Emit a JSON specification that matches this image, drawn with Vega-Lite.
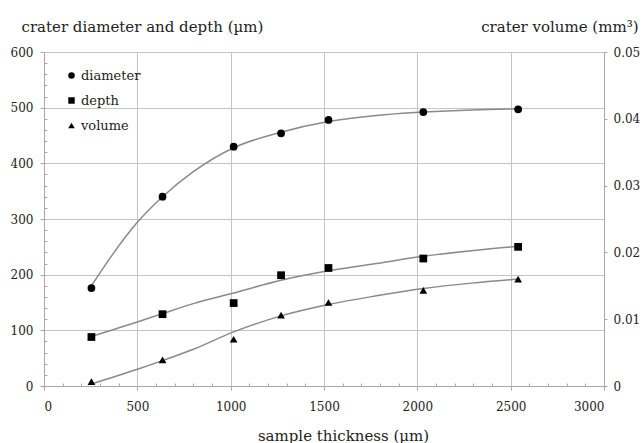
{
  "$schema": "https://vega.github.io/schema/vega-lite/v6.json",
  "width": 560,
  "height": 334,
  "autosize": {"type": "none"},
  "padding": {"left": 44, "top": 52, "right": 39, "bottom": 57},
  "background": "white",
  "config": {
    "view": {"stroke": null},
    "font": "DejaVu Serif",
    "legend": {"labelFont": "DejaVu Serif"},
    "axis": {
      "labelFont": "DejaVu Serif",
      "titleFont": "DejaVu Serif",
      "labelFontSize": 12,
      "titleFontSize": 15,
      "titleFontWeight": "normal",
      "labelColor": "#222",
      "titleColor": "#222",
      "domainColor": "#a8a8a8",
      "tickColor": "#a8a8a8",
      "gridColor": "#c4c4c4",
      "gridWidth": 1,
      "labelOverlap": false
    }
  },
  "datasets": {
    "points": [
      {"thickness": 254, "series": "diameter", "value": 176},
      {"thickness": 635, "series": "diameter", "value": 340},
      {"thickness": 1016, "series": "diameter", "value": 430},
      {"thickness": 1270, "series": "diameter", "value": 454},
      {"thickness": 1524, "series": "diameter", "value": 478},
      {"thickness": 2032, "series": "diameter", "value": 492},
      {"thickness": 2540, "series": "diameter", "value": 497},
      {"thickness": 254, "series": "depth", "value": 88},
      {"thickness": 635, "series": "depth", "value": 129},
      {"thickness": 1016, "series": "depth", "value": 149},
      {"thickness": 1270, "series": "depth", "value": 199},
      {"thickness": 1524, "series": "depth", "value": 212},
      {"thickness": 2032, "series": "depth", "value": 229},
      {"thickness": 2540, "series": "depth", "value": 250},
      {"thickness": 254, "series": "volume", "value": 0.00064},
      {"thickness": 635, "series": "volume", "value": 0.0039},
      {"thickness": 1016, "series": "volume", "value": 0.0070},
      {"thickness": 1270, "series": "volume", "value": 0.0106},
      {"thickness": 1524, "series": "volume", "value": 0.0125},
      {"thickness": 2032, "series": "volume", "value": 0.0143},
      {"thickness": 2540, "series": "volume", "value": 0.0160}
    ],
    "fits": [
      {"thickness": 254, "series": "diameter", "value": 180},
      {"thickness": 350, "series": "diameter", "value": 228},
      {"thickness": 500, "series": "diameter", "value": 294},
      {"thickness": 635, "series": "diameter", "value": 340},
      {"thickness": 800, "series": "diameter", "value": 385},
      {"thickness": 1016, "series": "diameter", "value": 428},
      {"thickness": 1270, "series": "diameter", "value": 456},
      {"thickness": 1524, "series": "diameter", "value": 475},
      {"thickness": 1780, "series": "diameter", "value": 486},
      {"thickness": 2032, "series": "diameter", "value": 492},
      {"thickness": 2290, "series": "diameter", "value": 496},
      {"thickness": 2540, "series": "diameter", "value": 498},
      {"thickness": 254, "series": "depth", "value": 89},
      {"thickness": 500, "series": "depth", "value": 115},
      {"thickness": 635, "series": "depth", "value": 130},
      {"thickness": 800, "series": "depth", "value": 148},
      {"thickness": 1016, "series": "depth", "value": 167},
      {"thickness": 1270, "series": "depth", "value": 190},
      {"thickness": 1524, "series": "depth", "value": 207},
      {"thickness": 1780, "series": "depth", "value": 220},
      {"thickness": 2032, "series": "depth", "value": 233},
      {"thickness": 2290, "series": "depth", "value": 243},
      {"thickness": 2540, "series": "depth", "value": 251},
      {"thickness": 254, "series": "volume", "value": 0.0003},
      {"thickness": 500, "series": "volume", "value": 0.0025},
      {"thickness": 635, "series": "volume", "value": 0.0038},
      {"thickness": 800, "series": "volume", "value": 0.0055},
      {"thickness": 1016, "series": "volume", "value": 0.0081},
      {"thickness": 1270, "series": "volume", "value": 0.0105},
      {"thickness": 1524, "series": "volume", "value": 0.0122},
      {"thickness": 1780, "series": "volume", "value": 0.0135},
      {"thickness": 2032, "series": "volume", "value": 0.0146},
      {"thickness": 2290, "series": "volume", "value": 0.0154},
      {"thickness": 2540, "series": "volume", "value": 0.0160}
    ]
  },
  "encoding": {
    "x": {
      "field": "thickness",
      "type": "quantitative",
      "scale": {"domain": [0, 3000], "nice": false},
      "axis": {
        "values": [0, 100, 200, 300, 400, 500, 600, 700, 800, 900, 1000, 1100, 1200, 1300, 1400, 1500, 1600, 1700, 1800, 1900, 2000, 2100, 2200, 2300, 2400, 2500, 2600, 2700, 2800, 2900, 3000],
        "labelExpr": "datum.value % 500 === 0 ? format(datum.value, 'd') : ''",
        "grid": true,
        "gridOpacity": {"condition": {"test": "datum.value % 500 === 0", "value": 1}, "value": 0},
        "tickSize": {"condition": {"test": "datum.value % 500 === 0", "value": 4}, "value": -3},
        "labelPadding": 11,
        "title": "sample thickness (µm)",
        "titleAlign": "center",
        "titleBaseline": "alphabetic",
        "titleX": 299,
        "titleY": 54
      }
    }
  },
  "layer": [
    {
      "encoding": {
        "y": {
          "field": "value",
          "type": "quantitative",
          "scale": {"domain": [0, 600], "nice": false},
          "axis": {
            "orient": "left",
            "values": [0, 20, 40, 60, 80, 100, 120, 140, 160, 180, 200, 220, 240, 260, 280, 300, 320, 340, 360, 380, 400, 420, 440, 460, 480, 500, 520, 540, 560, 580, 600],
            "labelExpr": "datum.value % 100 === 0 ? format(datum.value, 'd') : ''",
            "grid": true,
            "gridOpacity": {"condition": {"test": "datum.value % 100 === 0", "value": 1}, "value": 0},
            "tickSize": {"condition": {"test": "datum.value % 100 === 0", "value": 4}, "value": -3},
            "labelPadding": 7,
            "title": "crater diameter and depth (µm)",
            "titleAngle": 0,
            "titleAlign": "left",
            "titleBaseline": "alphabetic",
            "titleX": -23,
            "titleY": -21
          }
        }
      },
      "layer": [
        {
          "data": {"name": "fits"},
          "transform": [{"filter": "datum.series !== 'volume'"}],
          "mark": {"type": "line", "color": "#8a8a8a", "strokeWidth": 1.5, "interpolate": "monotone"},
          "encoding": {"detail": {"field": "series"}}
        },
        {
          "data": {"name": "points"},
          "transform": [{"filter": "datum.series !== 'volume'"}],
          "mark": {"type": "point", "filled": true, "color": "black", "opacity": 1, "size": 60},
          "encoding": {
            "shape": {
              "field": "series",
              "type": "nominal",
              "scale": {"domain": ["diameter", "depth", "volume"], "range": ["circle", "square", "triangle-up"]},
              "legend": {
                "title": null,
                "orient": "none",
                "legendX": 21,
                "legendY": 17,
                "labelFontSize": 13,
                "labelColor": "#222",
                "symbolSize": 42,
                "symbolFillColor": "black",
                "symbolStrokeColor": "black",
                "rowPadding": 11,
                "labelOffset": 3
              }
            }
          }
        }
      ]
    },
    {
      "encoding": {
        "y": {
          "field": "value",
          "type": "quantitative",
          "scale": {"domain": [0, 0.05], "nice": false},
          "axis": {
            "orient": "right",
            "values": [0, 0.01, 0.02, 0.03, 0.04, 0.05],
            "format": "~g",
            "grid": false,
            "tickSize": 3,
            "labelPadding": 6,
            "title": "crater volume (mm³)",
            "titleAngle": 0,
            "titleAlign": "right",
            "titleBaseline": "alphabetic",
            "titleX": 34,
            "titleY": -21
          }
        }
      },
      "layer": [
        {
          "data": {"name": "fits"},
          "transform": [{"filter": "datum.series === 'volume'"}],
          "mark": {"type": "line", "color": "#8a8a8a", "strokeWidth": 1.5, "interpolate": "monotone"},
          "encoding": {"detail": {"field": "series"}}
        },
        {
          "data": {"name": "points"},
          "transform": [{"filter": "datum.series === 'volume'"}],
          "mark": {"type": "point", "filled": true, "color": "black", "opacity": 1, "size": 60},
          "encoding": {
            "shape": {"field": "series", "type": "nominal"}
          }
        }
      ]
    }
  ],
  "resolve": {"scale": {"y": "independent"}}
}
